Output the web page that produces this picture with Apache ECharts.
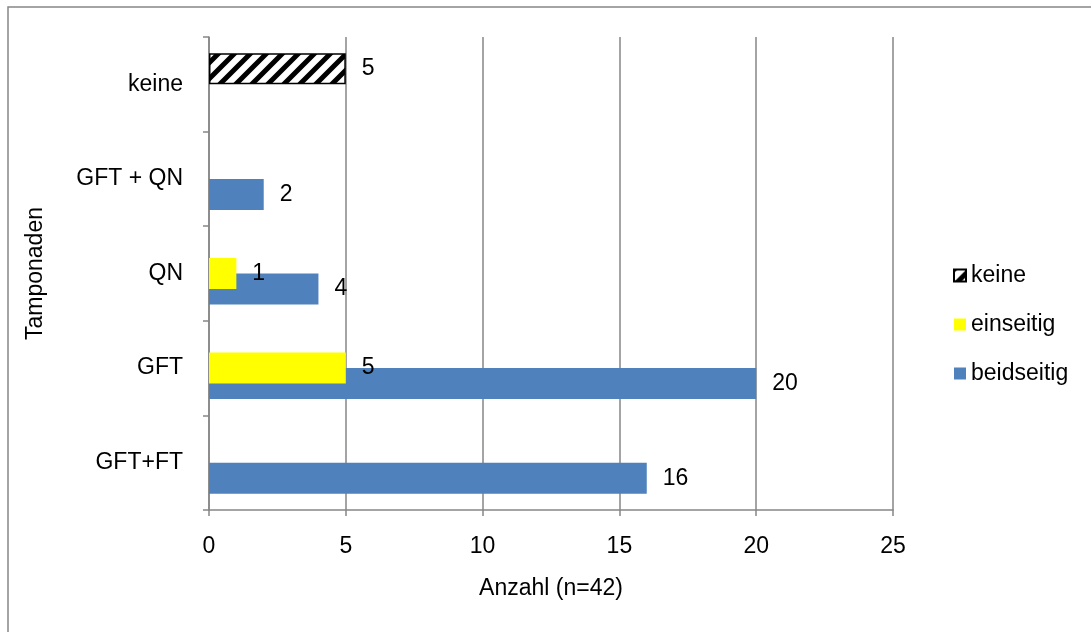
<!DOCTYPE html>
<html>
<head>
<meta charset="utf-8">
<script src="https://cdn.jsdelivr.net/npm/echarts@6/dist/echarts.min.js"></script>
<style>
  html, body { margin: 0; padding: 0; background: #fff; }
  #chart { width: 1091px; height: 632px; }
</style>
</head>
<body>
<div id="chart"></div>
<script>
  // Daten
  var categories = ['GFT+FT', 'GFT', 'QN', 'GFT + QN', 'keine'];
  var beidseitig = [16, 20, 4, 2, null];
  var einseitig = [null, 5, 1, null, null];
  var keine = [null, null, null, null, 5];
  var xTicks = [0, 5, 10, 15, 20, 25];

  // Schraffur fuer "keine"
  function hatch() {
    var c = document.createElement('canvas');
    c.width = 16; c.height = 16;
    var g = c.getContext('2d');
    g.fillStyle = '#fff';
    g.fillRect(0, 0, 16, 16);
    g.strokeStyle = '#000';
    g.lineWidth = 5;
    g.beginPath();
    g.moveTo(-4, 20); g.lineTo(20, -4);
    g.moveTo(-12, 12); g.lineTo(12, -12);
    g.moveTo(4, 28); g.lineTo(28, 4);
    g.stroke();
    return c;
  }

  var font = 'Liberation Sans';
  var fs = 23;
  var grey = '#868686';
  var label = {
    show: true, position: 'right', distance: 16,
    color: '#000', fontSize: fs, fontFamily: font
  };

  var chart = echarts.init(document.getElementById('chart'));
  chart.setOption({
    animation: false,
    textStyle: { fontFamily: font },
    graphic: [{
      type: 'rect',
      shape: { x: 8, y: 7, width: 1300, height: 1000 },
      style: { fill: 'none', stroke: grey, lineWidth: 1.5 }
    }],
    grid: { left: 209, right: 198, top: 37, bottom: 122 },
    legend: {
      orient: 'vertical',
      left: 948, top: 259,
      icon: 'rect',
      itemWidth: 12, itemHeight: 12, itemGap: 26,
      data: ['keine', 'einseitig', 'beidseitig'],
      textStyle: { fontSize: fs, color: '#000', fontFamily: font }
    },
    xAxis: {
      type: 'value', min: xTicks[0], max: xTicks[xTicks.length - 1], interval: 5,
      name: 'Anzahl (n=42)', nameLocation: 'middle', nameGap: 67,
      nameTextStyle: { fontSize: fs, color: '#000', fontFamily: font },
      axisLine: { show: true, lineStyle: { color: grey, width: 1.5 } },
      axisTick: { show: true, length: 6, lineStyle: { color: grey, width: 1.5 } },
      axisLabel: { color: '#000', fontSize: fs, margin: 25, fontFamily: font },
      splitLine: { show: true, lineStyle: { color: grey, width: 1.5 } }
    },
    yAxis: {
      type: 'category', data: categories,
      name: 'Tamponaden', nameLocation: 'middle', nameGap: 162, nameRotate: 90,
      nameTextStyle: { fontSize: fs, color: '#000', fontFamily: font },
      axisLine: { show: true, lineStyle: { color: grey, width: 1.5 } },
      axisTick: { show: true, length: 6, lineStyle: { color: grey, width: 1.5 } },
      axisLabel: { color: '#000', fontSize: fs, margin: 26, fontFamily: font },
      splitLine: { show: false }
    },
    series: [{
      name: 'keine', type: 'bar', data: keine,
      barWidth: 31, barGap: '-50%', z: 2,
      itemStyle: { color: { image: hatch(), repeat: 'repeat' }, borderColor: '#000', borderWidth: 1.5 },
      label: label
    }, {
      name: 'einseitig', type: 'bar', data: einseitig,
      barWidth: 31, barGap: '-50%', z: 3,
      itemStyle: { color: '#FFFF00' }, label: label
    }, {
      name: 'beidseitig', type: 'bar', data: beidseitig,
      barWidth: 31, barGap: '-50%', z: 2,
      itemStyle: { color: '#4F81BD' }, label: label
    }]
  });
</script>
</body>
</html>
